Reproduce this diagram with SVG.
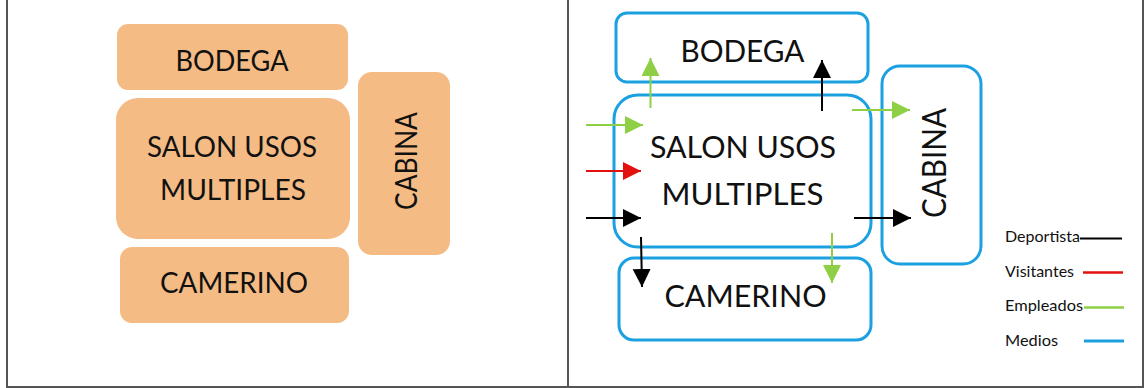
<svg xmlns="http://www.w3.org/2000/svg" width="1144" height="388" viewBox="0 0 1144 388">
<style>
.frame{fill:none;stroke:#555;stroke-width:2}
.org{fill:#f5bb84}
.med{fill:#fff;stroke:#1ba1e2;stroke-width:3}
.t{font-family:Lato,"Liberation Sans",sans-serif;fill:#111;text-anchor:middle}
.lg{font-family:Lato,"Liberation Sans",sans-serif;fill:#111;font-size:15px}
.k{stroke:#000;stroke-width:2;fill:none}
.r{stroke:#e31010;stroke-width:2;fill:none}
.g{stroke:#8fcf45;stroke-width:2;fill:none}
</style>
<defs>
<marker id="hk" markerUnits="userSpaceOnUse" markerWidth="20" markerHeight="20" refX="18" refY="9" orient="auto"><path d="M0,0 L18,9 L0,18 z" fill="#000"/></marker>
<marker id="hr" markerUnits="userSpaceOnUse" markerWidth="20" markerHeight="20" refX="18" refY="9" orient="auto"><path d="M0,0 L18,9 L0,18 z" fill="#e31010"/></marker>
<marker id="hg" markerUnits="userSpaceOnUse" markerWidth="20" markerHeight="20" refX="18" refY="9" orient="auto"><path d="M0,0 L18,9 L0,18 z" fill="#8fcf45"/></marker>
</defs>
<rect width="1144" height="388" fill="#fff"/>
<g id="frame">
<path class="frame" d="M7,0 V387 H1143 V0 M568,0 V387"/>
</g>
<!-- left panel -->
<g id="l-bodega"><rect class="org" x="117" y="24" width="231" height="66" rx="11"/><text class="t" x="232" y="71" font-size="28" textLength="113" lengthAdjust="spacingAndGlyphs">BODEGA</text></g>
<g id="l-salon"><rect class="org" x="116" y="98" width="234" height="141" rx="22"/><text class="t" x="232" y="157" font-size="28" textLength="170" lengthAdjust="spacingAndGlyphs">SALON USOS</text><text class="t" x="233" y="200" font-size="28" textLength="146" lengthAdjust="spacingAndGlyphs">MULTIPLES</text></g>
<g id="l-cabina"><rect class="org" x="358" y="72" width="92" height="183" rx="14"/><text class="t" transform="translate(417,161) rotate(-90)" x="0" y="0" font-size="30" textLength="98" lengthAdjust="spacingAndGlyphs">CABINA</text></g>
<g id="l-camerino"><rect class="org" x="120" y="247" width="229" height="76" rx="12"/><text class="t" x="234" y="293" font-size="28" textLength="148" lengthAdjust="spacingAndGlyphs">CAMERINO</text></g>
<!-- right panel -->
<g id="r-bodega"><rect class="med" x="616" y="13" width="252" height="69" rx="11"/><text class="t" x="742.5" y="62" font-size="31" textLength="124" lengthAdjust="spacingAndGlyphs">BODEGA</text></g>
<g id="r-salon"><rect class="med" x="614" y="95" width="257" height="152" rx="24"/><text class="t" x="743" y="158" font-size="31" textLength="186" lengthAdjust="spacingAndGlyphs">SALON USOS</text><text class="t" x="742.5" y="205" font-size="31" textLength="162" lengthAdjust="spacingAndGlyphs">MULTIPLES</text></g>
<g id="r-cabina"><rect class="med" x="882" y="66" width="99" height="198" rx="18"/><text class="t" transform="translate(946,163) rotate(-90)" x="0" y="0" font-size="33" textLength="110" lengthAdjust="spacingAndGlyphs">CABINA</text></g>
<g id="r-camerino"><rect class="med" x="619" y="258" width="252" height="82" rx="15"/><text class="t" x="745.5" y="307" font-size="31" textLength="162" lengthAdjust="spacingAndGlyphs">CAMERINO</text></g>
<g id="connectors">
<line class="g" x1="650.5" y1="108" x2="650.5" y2="58" marker-end="url(#hg)"/>
<line class="k" x1="822" y1="111" x2="822" y2="60" marker-end="url(#hk)"/>
<line class="g" x1="586" y1="125" x2="643" y2="125" marker-end="url(#hg)"/>
<line class="r" x1="586" y1="171" x2="641" y2="171" marker-end="url(#hr)"/>
<line class="k" x1="586" y1="218" x2="641" y2="218" marker-end="url(#hk)"/>
<line class="g" x1="852" y1="110" x2="910" y2="110" marker-end="url(#hg)"/>
<line class="k" x1="854" y1="218" x2="911" y2="218" marker-end="url(#hk)"/>
<line class="k" x1="641" y1="237" x2="642" y2="287" marker-end="url(#hk)"/>
<line class="g" x1="832" y1="233" x2="832" y2="283" marker-end="url(#hg)"/>
</g>
<g id="legend">
<text class="lg" x="1005" y="242" textLength="75" lengthAdjust="spacingAndGlyphs">Deportista</text>
<line x1="1080" y1="238.5" x2="1122" y2="238.5" stroke="#000" stroke-width="2"/>
<text class="lg" x="1005" y="277" textLength="69" lengthAdjust="spacingAndGlyphs">Visitantes</text>
<line x1="1083" y1="272.5" x2="1123" y2="272.5" stroke="#e31010" stroke-width="2.5"/>
<text class="lg" x="1005" y="311" textLength="78" lengthAdjust="spacingAndGlyphs">Empleados</text>
<line x1="1084" y1="307.5" x2="1124" y2="307.5" stroke="#8fcf45" stroke-width="2.5"/>
<text class="lg" x="1005" y="346" textLength="53" lengthAdjust="spacingAndGlyphs">Medios</text>
<line x1="1084" y1="341" x2="1124" y2="341" stroke="#1ba1e2" stroke-width="3"/>
</g>
</svg>
